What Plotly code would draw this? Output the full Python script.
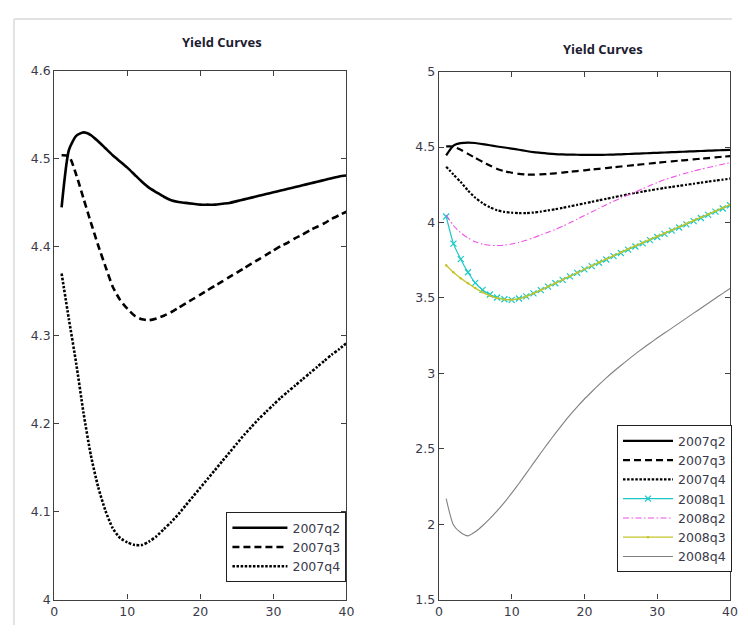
import plotly.graph_objects as go

maturity = list(range(1, 41))

y2007q2 = [4.445, 4.510, 4.526, 4.530, 4.527, 4.520, 4.512, 4.504, 4.497, 4.490,
           4.482, 4.474, 4.467, 4.462, 4.457, 4.453, 4.451, 4.450, 4.449, 4.448,
           4.448, 4.448, 4.449, 4.450, 4.452, 4.454, 4.456, 4.458, 4.460, 4.462,
           4.464, 4.466, 4.468, 4.470, 4.472, 4.474, 4.476, 4.478, 4.480, 4.481]
y2007q3 = [4.504, 4.503, 4.482, 4.455, 4.428, 4.402, 4.378, 4.355, 4.340, 4.330,
           4.322, 4.318, 4.317, 4.319, 4.322, 4.326, 4.331, 4.336, 4.341, 4.346,
           4.351, 4.356, 4.361, 4.366, 4.371, 4.376, 4.381, 4.386, 4.391, 4.396,
           4.401, 4.405, 4.410, 4.414, 4.419, 4.423, 4.427, 4.432, 4.436, 4.440]
y2007q4 = [4.370, 4.318, 4.268, 4.212, 4.164, 4.128, 4.101, 4.081, 4.070, 4.065,
           4.062, 4.062, 4.066, 4.072, 4.080, 4.088, 4.097, 4.107, 4.117, 4.127,
           4.137, 4.147, 4.157, 4.167, 4.177, 4.187, 4.196, 4.205, 4.213, 4.221,
           4.229, 4.236, 4.243, 4.250, 4.257, 4.264, 4.271, 4.278, 4.284, 4.291]
y2008q1 = [4.040, 3.860, 3.757, 3.670, 3.600, 3.553, 3.523, 3.503, 3.491, 3.487,
           3.496, 3.510, 3.530, 3.552, 3.575, 3.597, 3.620, 3.643, 3.666, 3.689,
           3.711, 3.733, 3.755, 3.777, 3.798, 3.820, 3.841, 3.862, 3.883, 3.904,
           3.925, 3.946, 3.967, 3.988, 4.009, 4.030, 4.051, 4.072, 4.093, 4.114]
y2008q2 = [4.050, 3.980, 3.932, 3.897, 3.872, 3.857, 3.849, 3.847, 3.850, 3.857,
           3.868, 3.882, 3.899, 3.917, 3.935, 3.954, 3.975, 3.998, 4.022, 4.046,
           4.070, 4.094, 4.117, 4.140, 4.162, 4.183, 4.203, 4.224, 4.245, 4.265,
           4.283, 4.299, 4.314, 4.328, 4.341, 4.353, 4.364, 4.375, 4.386, 4.396]
y2008q3 = [3.717, 3.670, 3.630, 3.597, 3.565, 3.537, 3.515, 3.499, 3.490, 3.488,
           3.495, 3.510, 3.530, 3.552, 3.575, 3.598, 3.621, 3.644, 3.667, 3.690,
           3.713, 3.736, 3.758, 3.780, 3.802, 3.824, 3.845, 3.866, 3.887, 3.908,
           3.929, 3.950, 3.971, 3.992, 4.013, 4.034, 4.055, 4.076, 4.097, 4.118]
y2008q4 = [2.169, 1.995, 1.945, 1.923, 1.950, 1.990, 2.037, 2.088, 2.145, 2.206,
           2.270, 2.337, 2.405, 2.472, 2.538, 2.602, 2.664, 2.723, 2.778, 2.830,
           2.878, 2.925, 2.970, 3.012, 3.052, 3.091, 3.129, 3.165, 3.200, 3.234,
           3.267, 3.300, 3.333, 3.366, 3.399, 3.432, 3.465, 3.498, 3.530, 3.562]

left_yticks = [4, 4.1, 4.2, 4.3, 4.4, 4.5, 4.6]
left_ylabels = ["4", "4.1", "4.2", "4.3", "4.4", "4.5", "4.6"]
right_yticks = [1.5, 2, 2.5, 3, 3.5, 4, 4.5, 5]
right_ylabels = ["1.5", "2", "2.5", "3", "3.5", "4", "4.5", "5"]
xticks = [0, 10, 20, 30, 40]
title_text = "Yield Curves"

# The page body has an 8px margin; the figure is sized so the page fits the window.
OFF = 8
W, H = 748 - 2 * OFF, 641 - 2 * OFF


def fx(px):
    return (px - OFF) / W


def fy(py):
    return 1 - (py - OFF) / H


SMOOTH = 0.6
fig = go.Figure()

black_styles = [
    ("2007q2", y2007q2, "solid"),
    ("2007q3", y2007q3, "7px,4px"),
    ("2007q4", y2007q4, "2.5px,1.6px"),
]

for name, ys, dash in black_styles:
    fig.add_trace(go.Scatter(x=maturity, y=ys, name=name, mode="lines",
                             line=dict(color="black", width=2.6, dash=dash,
                                       shape="spline", smoothing=SMOOTH),
                             xaxis="x", yaxis="y", legend="legend"))

for name, ys, dash in black_styles:
    fig.add_trace(go.Scatter(x=maturity, y=ys, name=name, mode="lines",
                             line=dict(color="black", width=2.2, dash=dash,
                                       shape="spline", smoothing=SMOOTH),
                             xaxis="x2", yaxis="y2", legend="legend2"))

fig.add_trace(go.Scatter(x=maturity, y=y2008q1, name="2008q1", mode="lines+markers",
                         line=dict(color="#19c8c8", width=1.2, shape="spline", smoothing=SMOOTH),
                         marker=dict(symbol="x-thin", size=6, line=dict(color="#19c8c8", width=1.2)),
                         xaxis="x2", yaxis="y2", legend="legend2"))
fig.add_trace(go.Scatter(x=maturity, y=y2008q2, name="2008q2", mode="lines",
                         line=dict(color="#f050e6", width=1.1, dash="6px,2.5px,1.5px,2.5px",
                                   shape="spline", smoothing=SMOOTH),
                         xaxis="x2", yaxis="y2", legend="legend2"))
fig.add_trace(go.Scatter(x=maturity, y=y2008q3, name="2008q3", mode="lines+markers",
                         line=dict(color="#c4c428", width=1.3, shape="spline", smoothing=SMOOTH),
                         marker=dict(symbol="circle", size=2.5, color="#c4c428"),
                         xaxis="x2", yaxis="y2", legend="legend2"))
fig.add_trace(go.Scatter(x=maturity, y=y2008q4, name="2008q4", mode="lines",
                         line=dict(color="#808080", width=1.1, shape="spline", smoothing=SMOOTH),
                         xaxis="x2", yaxis="y2", legend="legend2"))

text_font = dict(family="DejaVu Sans", size=12.5, color="#3a3a4a")
axis_common = dict(showline=True, linecolor="#404040", linewidth=1.4, mirror="ticks",
                   ticks="inside", ticklen=5, tickcolor="#404040", showgrid=False,
                   zeroline=False, tickfont=text_font)

fig.update_layout(
    width=W, height=H,
    margin=dict(l=0, r=0, t=0, b=0),
    paper_bgcolor="white", plot_bgcolor="white",
    xaxis=dict(domain=[fx(51), fx(348)], range=[0, 40], tickvals=xticks,
               anchor="y", **axis_common),
    yaxis=dict(domain=[fy(606), fy(64)], range=[4, 4.6], tickvals=left_yticks,
               ticktext=left_ylabels, anchor="x", **axis_common),
    xaxis2=dict(domain=[fx(442), fx(738)], range=[0, 40], tickvals=xticks,
                anchor="y2", **axis_common),
    yaxis2=dict(domain=[fy(606), fy(65)], range=[1.5, 5], tickvals=right_yticks,
                ticktext=right_ylabels, anchor="x2", **axis_common),
    legend=dict(x=fx(348), xanchor="right", y=fy(588), yanchor="bottom",
                bgcolor="white", bordercolor="#202020", borderwidth=1,
                font=text_font, itemwidth=55, tracegroupgap=0),
    legend2=dict(x=fx(740), xanchor="right", y=fy(578), yanchor="bottom",
                 bgcolor="white", bordercolor="#202020", borderwidth=1,
                 font=text_font, itemwidth=50, tracegroupgap=0),
    annotations=[
        dict(text="<b>" + title_text + "</b>", x=fx(221), y=fy(35), xref="paper", yref="paper",
             xanchor="center", yanchor="middle", showarrow=False,
             font=dict(family="Open Sans", size=13, color="#1c2030")),
        dict(text="<b>" + title_text + "</b>", x=fx(609), y=fy(42), xref="paper", yref="paper",
             xanchor="center", yanchor="middle", showarrow=False,
             font=dict(family="Open Sans", size=13, color="#1c2030")),
    ],
    shapes=[
        dict(type="line", xref="paper", yref="paper", x0=fx(10), x1=1, y0=fy(11), y1=fy(11),
             line=dict(color="#e2e2e2", width=2)),
        dict(type="line", xref="paper", yref="paper", x0=fx(10), x1=fx(10), y0=fy(11), y1=fy(632),
             line=dict(color="#e2e2e2", width=2)),
    ],
    showlegend=True,
)

fig.write_html("out.html")
